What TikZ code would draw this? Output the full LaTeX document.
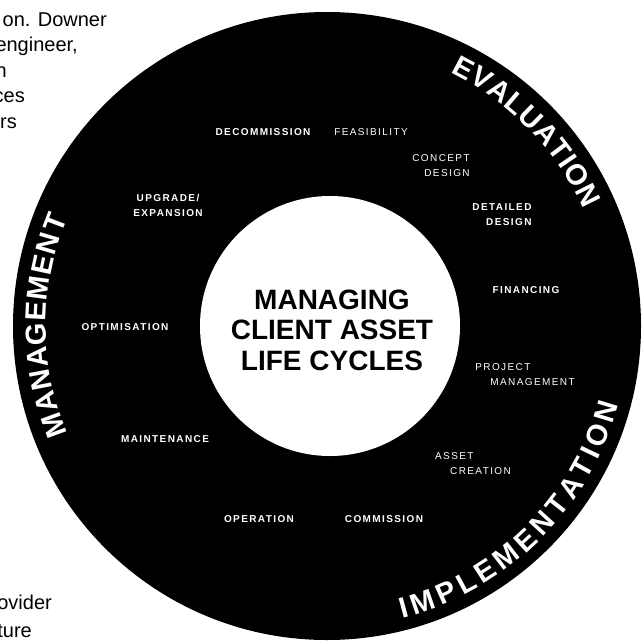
\documentclass[tikz,border=0pt]{standalone}
\usepackage{fontspec}
\setmainfont{Liberation Sans}
\setsansfont{Liberation Sans}
\newfontfamily\lblfont{Liberation Sans}[LetterSpace=14]
\usetikzlibrary{decorations.text}
\tikzset{
  lbl/.style={text=white, font=\lblfont\fontsize{10}{15}\selectfont, inner sep=0pt, align=center},
  lblb/.style={lbl, font=\lblfont\bfseries\fontsize{10}{15}\selectfont},
  para/.style={text=black, font=\fontsize{20}{24}\selectfont, inner sep=0pt},
  hub/.style={text=black, font=\bfseries\fontsize{28}{30.5}\selectfont, align=center, inner sep=0pt},
  ringtext/.style={decorate, decoration={text along path, text={|\arcfont|#1}, text align={fit to path}}}
}
\newcommand\arcfont{\color{white}\bfseries\fontsize{29}{29}\selectfont}
\begin{document}
\begin{tikzpicture}[x=1pt,y=-1pt]
\useasboundingbox (0,0) rectangle (642,640);
\fill[white] (0,0) rectangle (642,640);
\coordinate (c) at (327,326);
\coordinate (ci) at (330,326);
\fill[black] (c) circle[radius=314];
\fill[white] (ci) circle[radius=130];

% paragraph fragments
\node[para, anchor=base east] (t1) at (107,26) {on. Downer};
\node[para, anchor=base east] (t2) at (78,51.5) {engineer,};
\node[para, anchor=base east] (t3) at (7,77) {n};
\node[para, anchor=base east] (t4) at (25,102.5) {ces};
\node[para, anchor=base east] (t5) at (17,128) {rs};
\node[para, anchor=base east] (t6) at (52,609) {ovider};
\node[para, anchor=base east] (t7) at (32,637) {ture};

% centre
\node[hub] (hub) at (332,330) {MANAGING\\CLIENT ASSET\\LIFE CYCLES};

% stage labels
\node[lblb] (decom) at (263,132) {DECOMMISSION};
\node[lbl] (feas) at (371,132) {FEASIBILITY};
\node[lbl, align=right] (concept) at (441,166) {CONCEPT\\DESIGN};
\node[lblb, align=right] (detailed) at (502,215) {DETAILED\\DESIGN};
\node[lblb] (fin) at (526,290) {FINANCING};
\node[lbl, align=left] (pm) at (525,375) {PROJECT\\\hspace*{15pt}MANAGEMENT};
\node[lbl, align=left] (asset) at (473,464) {ASSET\\\hspace*{15pt}CREATION};
\node[lblb] (comm) at (384,519) {COMMISSION};
\node[lblb] (oper) at (259,519) {OPERATION};
\node[lblb] (maint) at (165,439) {MAINTENANCE};
\node[lblb] (optim) at (125,327) {OPTIMISATION};
\node[lblb] (upgrade) at (168,205) {UPGRADE/\\EXPANSION};

% ring texts
\begin{scope}[shift={(c)}, y=1pt]
  \path[ringtext=EVALUATION] (64:282) arc[start angle=64, end angle=24.5, radius=282];
  \path[ringtext=MANAGEMENT] (202.5:281) arc[start angle=202.5, end angle=157.5, radius=281];
  \path[ringtext=IMPLEMENTATION] (-75.5:302) arc[start angle=-75.5, end angle=-15, radius=302];
\end{scope}
\end{tikzpicture}
\end{document}
